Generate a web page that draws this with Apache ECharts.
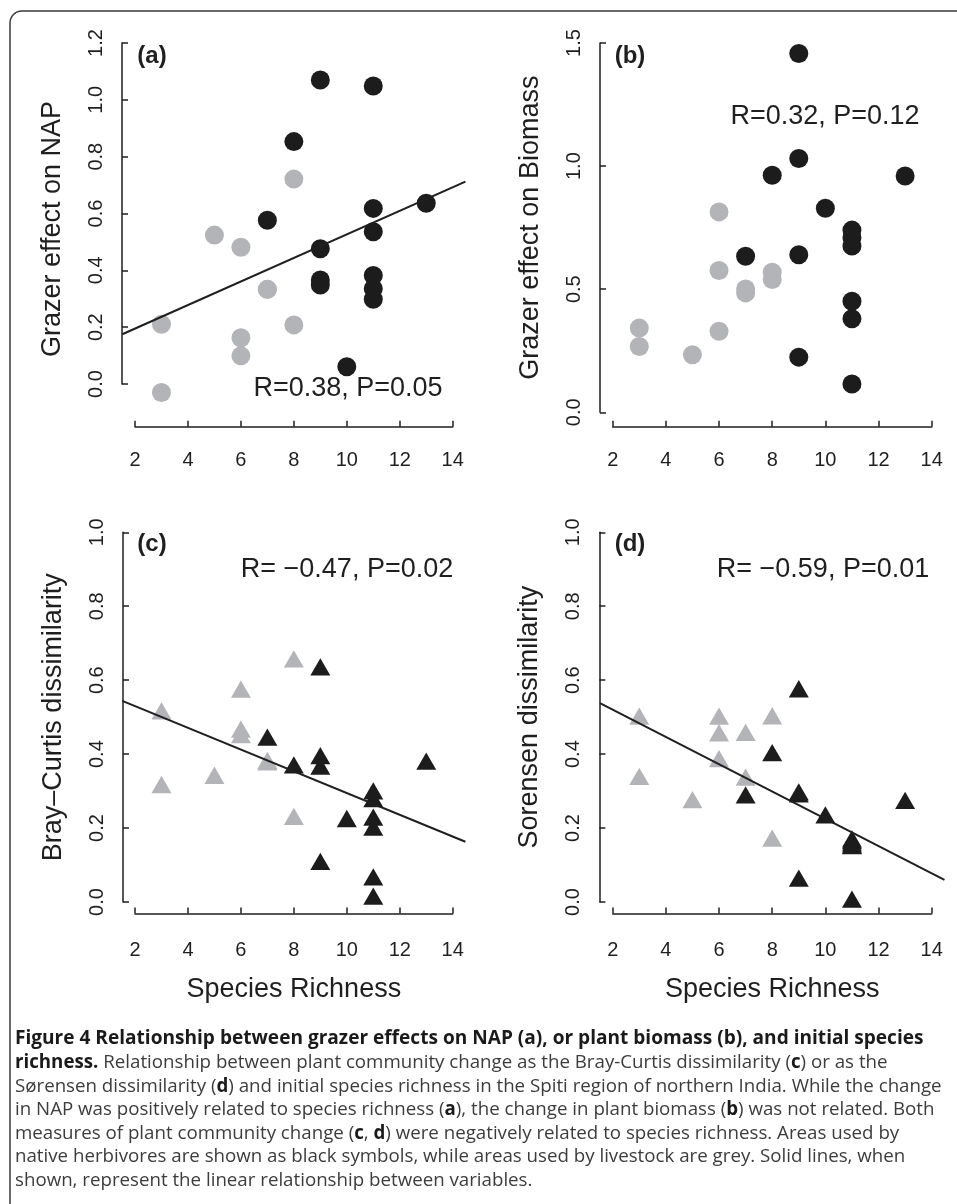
<!DOCTYPE html>
<html>
<head>
<meta charset="utf-8">
<script src="https://cdn.jsdelivr.net/npm/echarts@6/dist/echarts.min.js"></script>
<style>
html,body{margin:0;padding:0;background:#fff;}
#c{width:957px;height:1204px;}
</style>
</head>
<body>
<div id="c"></div>
<script>
// ---- data ----
const xTicks = [2, 4, 6, 8, 10, 12, 14];
const richGrey  = [3, 3, 5, 6, 6, 6, 7, 7, 8, 8];
const richBlack = [7, 8, 9, 9, 9, 9, 10, 11, 11, 11, 11, 11, 11, 13];

const napGrey  = [0.210, -0.030, 0.524, 0.481, 0.163, 0.099, 0.333, 0.333, 0.721, 0.208];
const napBlack = [0.576, 0.853, 1.070, 0.476, 0.366, 0.348, 0.061, 1.049, 0.618, 0.536, 0.382, 0.335, 0.298, 0.636];

const bioGrey  = [0.342, 0.267, 0.234, 0.814, 0.576, 0.329, 0.501, 0.485, 0.569, 0.539];
const bioBlack = [0.634, 0.963, 1.457, 1.031, 0.640, 0.224, 0.829, 0.740, 0.709, 0.675, 0.451, 0.380, 0.115, 0.960];

const bcGrey  = [0.509, 0.310, 0.335, 0.568, 0.460, 0.445, 0.371, 0.375, 0.650, 0.224];
const bcBlack = [0.438, 0.363, 0.628, 0.388, 0.360, 0.102, 0.218, 0.293, 0.272, 0.222, 0.195, 0.060, 0.008, 0.373];

const sorGrey  = [0.495, 0.332, 0.269, 0.495, 0.450, 0.380, 0.451, 0.330, 0.496, 0.165];
const sorBlack = [0.282, 0.396, 0.569, 0.290, 0.285, 0.057, 0.228, 0.163, 0.158, 0.152, 0.147, 0.145, 0.000, 0.267];

const fitNAP = [[1.52, 0.175], [14.48, 0.712]];
const fitBC  = [[1.52, 0.544], [14.48, 0.163]];
const fitSor = [[1.52, 0.538], [14.48, 0.060]];
const plotXRange = [1.52, 14.48];   // full plotting region (axis range 2-14 plus 4%)

const yTitles = ['Grazer effect on NAP', 'Grazer effect on Biomass', 'Bray\u2013Curtis dissimilarity', 'Sorensen dissimilarity'];
const xTitle = 'Species Richness';
const panelLetters = ['(a)', '(b)', '(c)', '(d)'];
const statTexts = ['R=0.38, P=0.05', 'R=0.32, P=0.12', 'R= \u22120.47, P=0.02', 'R= \u22120.59, P=0.01'];
const yRanges = [[0, 1.2, 0.2], [0, 1.5, 0.5], [0, 1, 0.2], [0, 1, 0.2]];

const captionLines = [
  '{b|Figure 4 Relationship between grazer effects on NAP (a), or plant biomass (b), and initial species}',
  '{b|richness.} Relationship between plant community change as the Bray-Curtis dissimilarity ({b|c}) or as the',
  'S\u00f8rensen dissimilarity ({b|d}) and initial species richness in the Spiti region of northern India. While the change',
  'in NAP was positively related to species richness ({b|a}), the change in plant biomass ({b|b}) was not related. Both',
  'measures of plant community change ({b|c}, {b|d}) were negatively related to species richness. Areas used by',
  'native herbivores are shown as black symbols, while areas used by livestock are grey. Solid lines, when',
  'shown, represent the linear relationship between variables.'
];

// ---- layout ----
const FONT = '"Liberation Sans", Arial, Helvetica, sans-serif';
const INK = '#1f1f1f';
const GREY = '#b3b4b7';
const BLACK = '#1c1c1c';

const grids = [
  {left: 135,   top: 43,    width: 317.7, height: 341,   yOff: 13,   xOff: 42.7, lm: 24},
  {left: 612.7, top: 43,    width: 319,   height: 369.3, yOff: 12.7, xOff: 14.4, lm: 24},
  {left: 135,   top: 532.3, width: 317.7, height: 369.7, yOff: 12,   xOff: 11.5, lm: 27},
  {left: 612.7, top: 532.3, width: 319,   height: 369.7, yOff: 13.3, xOff: 11.5, lm: 27}
];
const letterPos = [[152, 56], [630, 56], [152, 544], [630, 544]];
const statPos = [[348, 389], [825, 117], [347, 570], [823, 570]];

const panelData = [
  {grey: napGrey, black: napBlack, fit: fitNAP, tri: false},
  {grey: bioGrey, black: bioBlack, fit: null,   tri: false},
  {grey: bcGrey,  black: bcBlack,  fit: fitBC,  tri: true},
  {grey: sorGrey, black: sorBlack, fit: fitSor, tri: true}
];

const gridOpt = [], xAxes = [], yAxes = [], series = [];
grids.forEach((g, i) => {
  gridOpt.push({left: g.left, top: g.top, width: g.width, height: g.height, containLabel: false, outerBoundsMode: 'none'});
  const axisLine = {show: true, onZero: false, lineStyle: {color: INK, width: 1.5}};
  const axisTick = {show: true, inside: true, length: 6, lineStyle: {color: INK, width: 1.5}};
  xAxes.push({
    type: 'value', gridIndex: i, min: xTicks[0], max: xTicks[xTicks.length - 1], interval: 2,
    position: 'bottom', offset: g.xOff,
    axisLine: axisLine, axisTick: axisTick, splitLine: {show: false},
    axisLabel: {show: true, margin: g.lm, color: INK, fontSize: 20, fontFamily: FONT, showMinLabel: true, showMaxLabel: true},
    name: i >= 2 ? xTitle : '', nameLocation: 'middle', nameGap: 63,
    nameTextStyle: {fontSize: 27, fontFamily: FONT, color: INK}
  });
  const yr = yRanges[i];
  yAxes.push({
    type: 'value', gridIndex: i, min: yr[0], max: yr[1], interval: yr[2],
    position: 'left', offset: g.yOff,
    axisLine: axisLine, axisTick: axisTick, splitLine: {show: false},
    axisLabel: {show: true, rotate: 90, margin: 16, color: INK, fontSize: 20, fontFamily: FONT,
      showMinLabel: true, showMaxLabel: true, formatter: v => v.toFixed(1)},
    name: yTitles[i], nameLocation: 'middle', nameRotate: 90, nameGap: 56,
    nameTextStyle: {fontSize: 27, fontFamily: FONT, color: INK, padding: i === 0 ? [0, 31, 0, 0] : 0}
  });
  const p = panelData[i];
  const sym = p.tri ? 'triangle' : 'circle';
  const size = p.tri ? [20, 17.3] : 19;
  const off = p.tri ? [0, -2.9] : [0, 0];
  series.push({
    type: 'scatter', xAxisIndex: i, yAxisIndex: i, clip: false, z: 2,
    symbol: sym, symbolSize: size, symbolOffset: off,
    itemStyle: {color: GREY, borderWidth: 0, opacity: 1},
    data: richGrey.map((x, k) => [x, p.grey[k]]), silent: true
  });
  series.push({
    type: 'scatter', xAxisIndex: i, yAxisIndex: i, clip: false, z: 3,
    symbol: sym, symbolSize: size, symbolOffset: off,
    itemStyle: {color: BLACK, borderWidth: 0, opacity: 1},
    data: richBlack.map((x, k) => [x, p.black[k]]), silent: true
  });
});

// overlay grids covering the full plotting region (hidden axes, same scale) for the fitted lines
const nBase = grids.length;
grids.forEach((g, i) => {
  const p = panelData[i];
  if (!p.fit) return;
  const pxPerUnit = g.width / (xTicks[xTicks.length - 1] - xTicks[0]);
  const left = g.left - (xTicks[0] - plotXRange[0]) * pxPerUnit;
  const width = (plotXRange[1] - plotXRange[0]) * pxPerUnit;
  const gi = gridOpt.length;
  gridOpt.push({left: left, top: g.top, width: width, height: g.height, containLabel: false, outerBoundsMode: 'none', show: false});
  xAxes.push({type: 'value', gridIndex: gi, min: plotXRange[0], max: plotXRange[1], show: false});
  yAxes.push({type: 'value', gridIndex: gi, min: yRanges[i][0], max: yRanges[i][1], show: false});
  series.push({
    type: 'line', xAxisIndex: xAxes.length - 1, yAxisIndex: yAxes.length - 1, clip: false, z: 4,
    showSymbol: false, symbol: 'none', animation: false,
    lineStyle: {color: INK, width: 2},
    data: p.fit, silent: true
  });
});

// caption font fitting
const mc = document.createElement('canvas').getContext('2d');
function widthAt(txt, weight, size, fam) {
  mc.font = weight + ' ' + size + 'px ' + fam;
  return mc.measureText(txt).width;
}
const CAPF = '"Open Sans", "Noto Sans", sans-serif';
const plain3 = captionLines[2].replace(/\{b\|([^}]*)\}/g, '$1');
const regSize = 16 * 927 / widthAt(plain3, 'normal', 16, CAPF);
const bold1 = captionLines[0].replace(/\{b\|([^}]*)\}/g, '$1');
const boldSize = 16 * 909 / widthAt(bold1, 'bold', 16, CAPF);

const graphics = [
  {type: 'rect', shape: {x: 10, y: 11, width: 1000, height: 1260, r: 12}, style: {fill: null, stroke: '#3a3a3a', lineWidth: 1.5}, z: -1, silent: true}
];
panelLetters.forEach((t, i) => {
  graphics.push({type: 'text', x: letterPos[i][0], y: letterPos[i][1],
    style: {text: t, fontSize: 24, fontWeight: 'bold', fontFamily: FONT, fill: INK, align: 'center', verticalAlign: 'middle'}});
  graphics.push({type: 'text', x: statPos[i][0], y: statPos[i][1],
    style: {text: statTexts[i], fontSize: 27, fontFamily: FONT, fill: INK, align: 'center', verticalAlign: 'middle'}});
});
captionLines.forEach((t, i) => {
  graphics.push({type: 'text', x: 15, y: 1039 + i * 23.6,
    style: {text: t, fontSize: regSize, fontFamily: CAPF, fill: '#3c3c3c', align: 'left', verticalAlign: 'middle',
      rich: {b: {fontSize: i === 0 ? boldSize : regSize, fontWeight: 'bold', fontFamily: CAPF, fill: '#1a1a1a'}}}});
});

const chart = echarts.init(document.getElementById('c'), null, {renderer: 'canvas'});
chart.setOption({
  backgroundColor: '#ffffff',
  animation: false,
  grid: gridOpt,
  xAxis: xAxes,
  yAxis: yAxes,
  series: series,
  graphic: graphics
});
</script>
</body>
</html>
